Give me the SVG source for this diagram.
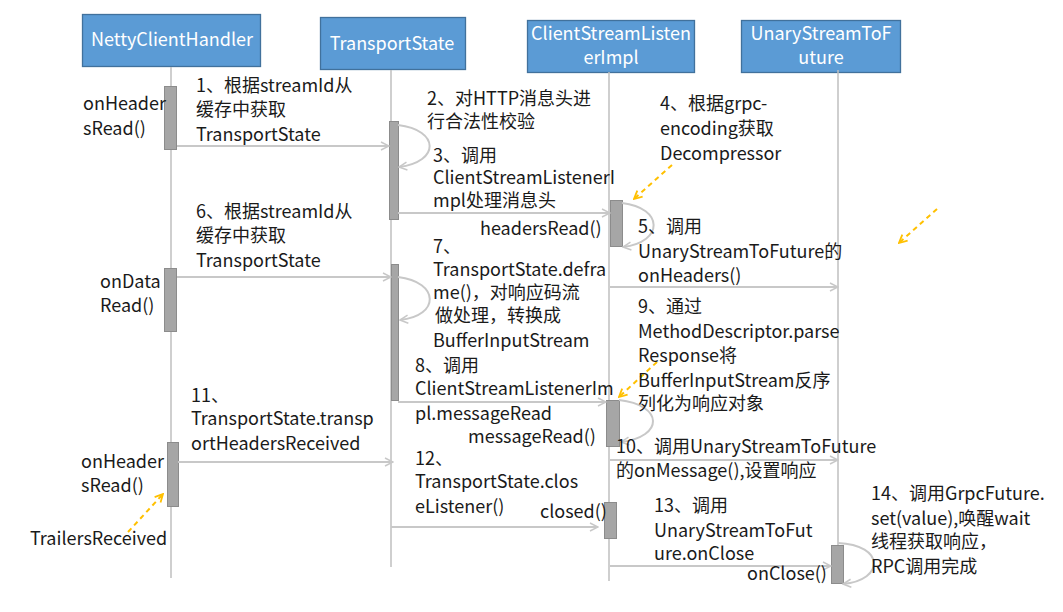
<svg xmlns="http://www.w3.org/2000/svg" width="1063" height="612" viewBox="0 0 1063 612">
<defs>
<style>
.hdr{fill:#5b9bd5;stroke:#41719c;stroke-width:1.3}
.ht{fill:#fff;font-family:"Noto Sans CJK SC","Liberation Sans",sans-serif;font-size:18px;text-anchor:middle}
.life{stroke:#bfbfbf;stroke-width:1.5;fill:none}
.bar{fill:#a6a6a6;stroke:#8c8c8c;stroke-width:1}
.msg{stroke:#c8c8c8;stroke-width:2;fill:none;marker-end:url(#ah)}
.dash{stroke:#ffc000;stroke-width:2;stroke-dasharray:5 4;fill:none;marker-end:url(#ay)}
text{font-family:"Noto Sans CJK SC","Liberation Sans",sans-serif;font-size:18px;fill:#1a1a1a}
</style>
<marker id="ah" markerWidth="10" markerHeight="10" refX="9" refY="5" orient="auto" markerUnits="userSpaceOnUse">
<path d="M1,1 L9,5 L1,9" fill="none" stroke="#c8c8c8" stroke-width="1.5"/>
</marker>
<marker id="ay" markerWidth="10" markerHeight="10" refX="9" refY="5" orient="auto" markerUnits="userSpaceOnUse">
<path d="M1,1 L9,5 L1,9" fill="none" stroke="#ffc000" stroke-width="1.8"/>
</marker>
</defs>
<rect width="1063" height="612" fill="#fff"/>

<g id="node-nettyclienthandler">
<rect class="hdr" x="82.5" y="14.5" width="178" height="52"/>
<text class="ht" x="172" y="46">NettyClientHandler</text>
<line class="life" x1="171" y1="67" x2="171" y2="578"/>
<rect class="bar" x="164.5" y="86.5" width="12" height="63"/>
<rect class="bar" x="164.5" y="268.5" width="12" height="63"/>
<rect class="bar" x="167.5" y="442.5" width="11" height="64"/>
<text x="83" y="110">onHeader<tspan x="83" dy="25">sRead()</tspan></text>
<text x="100" y="288">onData<tspan x="100" dy="24">Read()</tspan></text>
<text x="81" y="468">onHeader<tspan x="81" dy="24">sRead()</tspan></text>
<text x="30" y="545">TrailersReceived</text>
</g>

<g id="node-transportstate">
<rect class="hdr" x="320.5" y="17.5" width="145" height="52"/>
<text class="ht" x="392" y="50">TransportState</text>
<line class="life" x1="391" y1="70" x2="391" y2="567"/>
<rect class="bar" x="389.5" y="121.5" width="9" height="98"/>
<rect class="bar" x="391.5" y="264.5" width="7" height="136"/>
</g>

<g id="node-clientstreamlistenerimpl">
<rect class="hdr" x="527.5" y="20.5" width="167" height="52"/>
<text class="ht" x="611" y="40">ClientStreamListen<tspan x="611" dy="24">erImpl</tspan></text>
<line class="life" x1="609" y1="72" x2="609" y2="581"/>
<rect class="bar" x="610.5" y="200.5" width="12" height="46"/>
<rect class="bar" x="606.5" y="400.5" width="13" height="46"/>
<rect class="bar" x="604.5" y="502.5" width="12" height="36"/>
</g>

<g id="node-unarystreamtofuture">
<rect class="hdr" x="741.5" y="20.5" width="159" height="52"/>
<text class="ht" x="821" y="40">UnaryStreamToF<tspan x="821" dy="24">uture</tspan></text>
<line class="life" x1="838" y1="70" x2="838" y2="583"/>
<rect class="bar" x="831.5" y="545.5" width="12" height="38"/>
</g>

<g id="connectors">
<line class="msg" x1="177" y1="146" x2="389" y2="146"/>
<path class="msg" d="M398,125 C440,130 440,162 399,167"/>
<line class="msg" x1="398" y1="213" x2="610" y2="213"/>
<path class="msg" d="M622,203 C664,208 664,242 623,247"/>
<line class="msg" x1="610" y1="287" x2="838" y2="287"/>
<line class="msg" x1="177" y1="277" x2="391" y2="277"/>
<path class="msg" d="M398,277 C440,282 440,316 400,320"/>
<line class="msg" x1="398" y1="402" x2="606" y2="402"/>
<path class="msg" d="M619,400 C664,405 664,437 621,442"/>
<line class="msg" x1="610" y1="460" x2="838" y2="460"/>
<line class="msg" x1="178" y1="462" x2="393" y2="462"/>
<line class="msg" x1="391" y1="527" x2="598" y2="527"/>
<line class="msg" x1="610" y1="566" x2="831" y2="566"/>
<path class="msg" d="M838,543 C885,545 885,580 843,584"/>
<line class="dash" x1="672" y1="165" x2="634" y2="199"/>
<line class="dash" x1="937" y1="209" x2="899" y2="243"/>
<line class="dash" x1="657" y1="362" x2="619" y2="397"/>
<line class="dash" x1="128" y1="532" x2="163" y2="494"/>
</g>

<g id="labels">
<text x="196" y="92">1、根据streamId从<tspan x="196" dy="24">缓存中获取</tspan><tspan x="196" dy="25">TransportState</tspan></text>
<text x="196" y="218">6、根据streamId从<tspan x="196" dy="24">缓存中获取</tspan><tspan x="196" dy="25">TransportState</tspan></text>
<text x="191" y="402">11、<tspan x="191" dy="23">TransportState.transp</tspan><tspan x="191" dy="25">ortHeadersReceived</tspan></text>

<text x="427" y="105">2、对HTTP消息头进<tspan x="427" dy="23">行合法性校验</tspan></text>
<text x="433" y="162">3、调用<tspan x="433" dy="22">ClientStreamListenerI</tspan><tspan x="433" dy="23">mpl处理消息头</tspan></text>
<text x="480" y="235">headersRead()</text>
<text x="433" y="253">7、<tspan x="433" dy="23">TransportState.defra</tspan><tspan x="433" dy="23">me()，对响应码流</tspan><tspan x="435" dy="23">做处理，转换成</tspan><tspan x="433" dy="25">BufferInputStream</tspan></text>
<text x="415" y="372">8、调用<tspan x="415" dy="23">ClientStreamListenerIm</tspan><tspan x="415" dy="25">pl.messageRead</tspan></text>
<text x="468" y="443">messageRead()</text>
<text x="415" y="465">12、<tspan x="415" dy="23">TransportState.clos</tspan><tspan x="415" dy="25">eListener()</tspan></text>
<text x="540" y="518">closed()</text>

<text x="660" y="110">4、根据grpc-<tspan x="660" dy="25">encoding获取</tspan><tspan x="660" dy="25">Decompressor</tspan></text>
<text x="638" y="233">5、调用<tspan x="638" dy="25">UnaryStreamToFuture的</tspan><tspan x="638" dy="24">onHeaders()</tspan></text>
<text x="638" y="313">9、通过<tspan x="638" dy="25">MethodDescriptor.parse</tspan><tspan x="638" dy="24">Response将</tspan><tspan x="638" dy="25">BufferInputStream反序</tspan><tspan x="638" dy="23">列化为响应对象</tspan></text>
<text x="616" y="453">10、调用UnaryStreamToFuture<tspan x="616" dy="24">的onMessage(),设置响应</tspan></text>
<text x="654" y="512">13、调用<tspan x="654" dy="25">UnaryStreamToFut</tspan><tspan x="654" dy="23">ure.onClose</tspan></text>
<text x="747" y="580">onClose()</text>
<text x="871" y="500">14、调用GrpcFuture.<tspan x="871" dy="25">set(value),唤醒wait</tspan><tspan x="871" dy="23">线程获取响应，</tspan><tspan x="871" dy="25">RPC调用完成</tspan></text>
</g>
</svg>
